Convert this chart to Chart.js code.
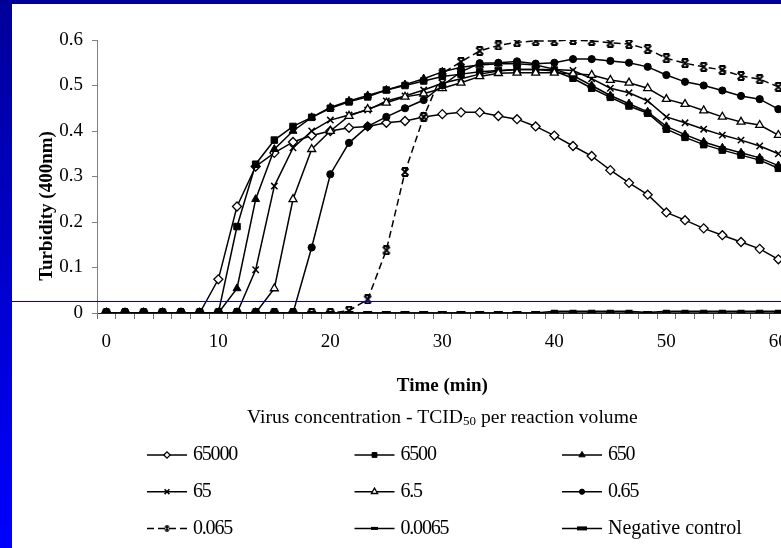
<!DOCTYPE html>
<html><head><meta charset="utf-8">
<script src="https://cdn.jsdelivr.net/npm/chart.js@4/dist/chart.umd.min.js"></script>
<style>
html,body{margin:0;padding:0;overflow:hidden;background:#fff;width:781px;height:548px;}
#wrap{position:relative;width:781px;height:548px;overflow:hidden;background:#fff;}
#c{position:absolute;left:0;top:0;width:800px;height:548px;}
#bar{position:absolute;left:0;top:0;width:12px;height:548px;background:linear-gradient(#00009a,#0000ff);}
#topband{position:absolute;left:0;top:0;width:781px;height:4px;background:#000096;}
#hline{position:absolute;left:12px;top:301px;width:769px;height:1px;background:#0000c0;}
</style></head>
<body><div id="wrap"><canvas id="c" width="800" height="548"></canvas><div id="bar"></div><div id="topband"></div><div id="hline"></div></div>
<script>
// ---- data ----
const times = [0,1.67,3.33,5,6.67,8.33,10,11.67,13.33,15,16.67,18.33,20,21.67,23.33,25,26.67,28.33,30,31.67,33.33,35,36.67,38.33,40,41.67,43.33,45,46.67,48.33,50,51.67,53.33,55,56.67,58.33,60];
const xTickLabels = ['0','10','20','30','40','50','60'];
const yTickValues = [0,0.1,0.2,0.3,0.4,0.5,0.6];
const seriesNames = ['65000','6500','650','65','6.5','0.65','0.065','0.0065','Negative control'];
const v65000 = [0,0,0,0,0,0,0.074,0.234,0.322,0.352,0.376,0.39,0.40,0.407,0.41,0.418,0.422,0.431,0.437,0.441,0.441,0.433,0.426,0.41,0.39,0.367,0.345,0.314,0.286,0.26,0.221,0.204,0.186,0.171,0.156,0.141,0.118];
const v6500  = [0,0,0,0,0,0,0,0.19,0.327,0.38,0.41,0.43,0.45,0.464,0.475,0.49,0.50,0.51,0.52,0.525,0.53,0.533,0.535,0.535,0.532,0.516,0.494,0.474,0.455,0.439,0.404,0.386,0.37,0.358,0.347,0.336,0.318];
const v650   = [0,0,0,0,0,0,0,0.054,0.25,0.36,0.40,0.43,0.452,0.466,0.478,0.49,0.502,0.515,0.53,0.54,0.545,0.548,0.548,0.545,0.536,0.522,0.50,0.478,0.46,0.442,0.41,0.392,0.376,0.363,0.352,0.341,0.324];
const v65    = [0,0,0,0,0,0,0,0,0.095,0.279,0.363,0.40,0.424,0.435,0.446,0.466,0.477,0.49,0.505,0.515,0.525,0.532,0.535,0.535,0.535,0.533,0.515,0.494,0.484,0.466,0.431,0.418,0.404,0.391,0.38,0.367,0.35];
const v6_5   = [0,0,0,0,0,0,0,0,0,0.054,0.25,0.36,0.40,0.433,0.448,0.462,0.475,0.482,0.494,0.506,0.52,0.527,0.528,0.528,0.528,0.526,0.523,0.512,0.506,0.494,0.47,0.459,0.445,0.431,0.42,0.413,0.391];
const v0_65  = [0,0,0,0,0,0,0,0,0,0,0,0.144,0.305,0.374,0.41,0.431,0.45,0.468,0.50,0.53,0.549,0.55,0.553,0.548,0.55,0.558,0.558,0.554,0.55,0.541,0.523,0.508,0.50,0.489,0.477,0.47,0.448];
const v0_065 = [0,0,0,0,0,0,0,0,0,0,0,0,0,0.005,0.03,0.138,0.31,0.431,0.527,0.552,0.576,0.588,0.595,0.598,0.598,0.60,0.598,0.594,0.591,0.58,0.56,0.549,0.541,0.534,0.521,0.514,0.497];
const v0_0065= [0,0,0,0,0,0,0,0,0,0,0,0,0,0,0,0,0,0,0,0,0,0,0,0,0.004,0.004,0.004,0.004,0.004,0.001,0.004,0.004,0.004,0.004,0.004,0.004,0.004];
const vNeg   = [0,0,0,0,0,0,0,0,0,0,0,0,0,0,0,0,0,0,0,0,0,0,0,0,0,0,0,0,0,0,0,0,0,0,0,0,0];
const seriesValues = [v65000,v6500,v650,v65,v6_5,v0_65,v0_065,v0_0065,vNeg];

// ---- styles ----
function starMarker(s, lw){
  const c=document.createElement('canvas'); c.width=s; c.height=s;
  const g=c.getContext('2d'); g.strokeStyle='#000'; g.lineWidth=lw;
  g.beginPath();
  g.moveTo(1.5,1.5); g.lineTo(s-1.5,s-1.5);
  g.moveTo(s-1.5,1.5); g.lineTo(1.5,s-1.5);
  g.moveTo(2,1); g.lineTo(s-2,1);
  g.moveTo(2,s-1); g.lineTo(s-2,s-1);
  g.stroke();
  return c;
}
const starBig = starMarker(10, 1.8), starSmall = starMarker(7, 1.4);
const styles = [
  {ps:'rectRot', r:4.5, bg:'#fff', pbw:1.3, lr:3.2},
  {ps:'rect', r:4.6, bg:'#000', pbw:1, lr:3.4},
  {ps:'triangle', r:4.6, bg:'#000', pbw:1, lr:3.6},
  {ps:'crossRot', r:4.5, bg:'#000', pbw:1.5, lr:3.4},
  {ps:'triangle', r:4.6, bg:'#fff', pbw:1.3, lr:3.6},
  {ps:'circle', r:3.6, bg:'#000', pbw:1, lr:2.6},
  {ps:starBig, lps:starSmall, r:5, bg:'#000', pbw:1, lr:3.5, dash:[7,4]},
  {ps:'line', r:3.5, bg:'#000', pbw:3, lr:3.5},
  {ps:'line', r:4.5, bg:'#000', pbw:4, lr:5},
];

const FONT = 'Liberation Serif, Times New Roman, serif';

const datasets = seriesNames.map((name,i)=>({
  label:name, data:seriesValues[i], order: seriesNames.length - i,
  borderColor:'#000', borderWidth:1.5, borderDash:styles[i].dash||[],
  pointStyle:styles[i].ps, pointRadius:styles[i].r, pointBackgroundColor:styles[i].bg,
  pointBorderColor:'#000', pointBorderWidth:styles[i].pbw, tension:0, fill:false
}));

function drawMarker(ctx, st, x, y){
  ctx.save();
  ctx.setLineDash([]);
  ctx.fillStyle = st.bg; ctx.strokeStyle='#000'; ctx.lineWidth = st.pbw;
  Chart.helpers.drawPoint(ctx, {pointStyle: st.lps || st.ps, radius: st.lr, rotation:0, borderWidth: st.pbw}, x, y);
  ctx.restore();
}

const annotPlugin = {
  id:'annot',
  afterDraw(chart){
    const ctx = chart.ctx, ca = chart.chartArea;
    const cx = (ca.left + ca.right)/2;
    ctx.save();
    ctx.fillStyle='#000';
    // y axis title
    ctx.save();
    ctx.translate(47, 206);
    ctx.rotate(-Math.PI/2);
    ctx.font = 'bold 19px ' + FONT;
    ctx.textAlign='center'; ctx.textBaseline='middle';
    ctx.fillText('Turbidity (400nm)', 0, 0);
    ctx.restore();
    // x axis title
    ctx.font = 'bold 19px ' + FONT;
    ctx.textAlign='center'; ctx.textBaseline='middle';
    ctx.fillText('Time (min)', cx, ca.bottom + 73);
    // legend title with subscript
    const p1 = 'Virus concentration - TCID', p2 = '50', p3 = ' per reaction volume';
    const big = '19.6px ' + FONT, small = '13px ' + FONT;
    ctx.font = big; const w1 = ctx.measureText(p1).width, w3 = ctx.measureText(p3).width;
    ctx.font = small; const w2 = ctx.measureText(p2).width;
    let x = cx - (w1+w2+w3)/2; const ty = ca.bottom + 105;
    ctx.textAlign='left';
    ctx.font = big; ctx.fillText(p1, x, ty); x += w1;
    ctx.font = small; ctx.fillText(p2, x, ty+4); x += w2;
    ctx.font = big; ctx.fillText(p3, x, ty);
    // legend grid
    chart.data.datasets.forEach((ds,i)=>{
      const col = i%3, row = Math.floor(i/3);
      const x0 = ca.left + 50 + col*207.5;
      const y = ca.bottom + 142 + row*36.7;
      ctx.save();
      ctx.strokeStyle='#000'; ctx.lineWidth=1.5; ctx.setLineDash(styles[i].dash||[]);
      ctx.beginPath(); ctx.moveTo(x0, y); ctx.lineTo(x0+40, y); ctx.stroke();
      ctx.restore();
      drawMarker(ctx, styles[i], x0+20, y);
      ctx.save();
      ctx.font = '20px ' + FONT; ctx.textAlign='left'; ctx.textBaseline='middle'; ctx.fillStyle='#000';
      if (/^[0-9.]+$/.test(ds.label) && 'letterSpacing' in ctx) ctx.letterSpacing = '-1.2px';
      ctx.fillText(ds.label, x0+46, y);
      ctx.restore();
    });
    ctx.restore();
  }
};

new Chart(document.getElementById('c'), {
  type:'line',
  data:{labels:times, datasets},
  options:{
    responsive:false, animation:false, devicePixelRatio:1,
    layout:{padding:{left:12, right:11, top:40, bottom:195}},
    plugins:{legend:{display:false}, tooltip:{enabled:false}},
    scales:{
      x:{
        type:'category', offset:true,
        grid:{offset:true, drawOnChartArea:false, drawTicks:true, tickLength:6, color:'#707070', lineWidth:1},
        border:{color:'#222', width:1},
        ticks:{autoSkip:false, maxRotation:0, minRotation:0, padding:12, color:'#000',
          font:{family:FONT, size:19},
          callback:function(v,i){ const t = times[i]; const s = String(t); return xTickLabels.includes(s) ? s : ''; }},
        afterFit:(s)=>{ s.height = 40; }
      },
      y:{
        min:0, max:0.6,
        afterBuildTicks:(s)=>{ s.ticks = yTickValues.map(v=>({value:v})); },
        grid:{drawOnChartArea:false, drawTicks:true, tickLength:5, color:'#808080'},
        border:{color:'#808080', width:1},
        ticks:{padding:9, color:'#000', font:{family:FONT, size:19},
          callback:(v)=> v===0 ? '0' : v.toFixed(1)},
        afterFit:(s)=>{ s.width = 85; }
      }
    }
  },
  plugins:[annotPlugin]
});
</script>
</body></html>
